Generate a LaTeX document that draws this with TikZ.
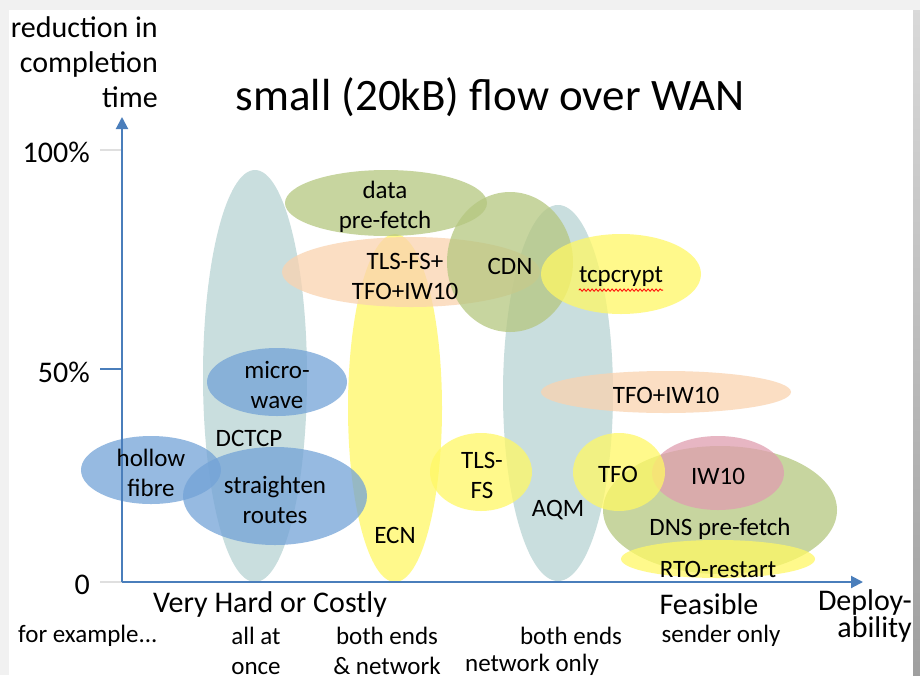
\documentclass[tikz,border=0pt]{standalone}
\usepackage{fontspec}
\setmainfont{Carlito}
\usetikzlibrary{arrows.meta,decorations.pathmorphing}

\definecolor{bggray}{RGB}{241,241,241}
\definecolor{axisblue}{RGB}{74,126,187}
\definecolor{tealgray}{RGB}{183,211,211}
\definecolor{sunyellow}{RGB}{255,248,101}
\definecolor{olivegreen}{RGB}{181,199,128}
\definecolor{peach}{RGB}{250,211,176}
\definecolor{skyblue}{RGB}{115,163,215}
\definecolor{rosepink}{RGB}{224,158,176}

\tikzset{
	blob/.style={fill opacity=0.75},
	tealblob/.style={blob, fill=tealgray},
	yellowblob/.style={blob, fill=sunyellow},
	greenblob/.style={blob, fill=olivegreen},
	peachblob/.style={blob, fill=peach},
	blueblob/.style={blob, fill=skyblue},
	pinkblob/.style={blob, fill=rosepink},
	lbl/.style={inner sep=0pt, align=center, font=\fontsize{25}{30}\selectfont},
	axlbl/.style={inner sep=0pt, align=center, font=\fontsize{30}{35}\selectfont},
}

\begin{document}
\begin{tikzpicture}[x=1pt, y=-1pt]
		%%%%% START %%%%%
		\useasboundingbox (0,0) rectangle (920,675);
		\fill[bggray] (0,0) rectangle (920,675);
		\fill[white] (9,10) rectangle (913,675);
		\shade[top color=gray!30, bottom color=gray!75] (913,10) rectangle (920,675);
		
		% tall ones
		\fill[tealblob] (255,376) ellipse [x radius=52, y radius=206];
		\fill[tealblob] (558,393) ellipse [x radius=55, y radius=188];
		\fill[yellowblob] (395,408) ellipse [x radius=47, y radius=174];
		
		% top group
		\fill[greenblob] (386,203) ellipse [x radius=101, y radius=33];
		\fill[peachblob] (411,272) ellipse [x radius=129, y radius=35];
		\fill[greenblob] (510,262) ellipse [x radius=63, y radius=70];
		\fill[yellowblob] (621,274) ellipse [x radius=80, y radius=40];
		
		% left group
		\fill[blueblob] (277,382) ellipse [x radius=70, y radius=34];
		\fill[blueblob] (151,470) ellipse [x radius=70, y radius=34];
		\fill[blueblob] (275,496) ellipse [x radius=92, y radius=49];
		
		% right group
		\fill[peachblob] (666,392) ellipse [x radius=125, y radius=21];
		\fill[yellowblob] (481,472) ellipse [x radius=51, y radius=39];
		\fill[greenblob] (720,510) ellipse [x radius=117, y radius=64];
		\fill[pinkblob] (718,473) ellipse [x radius=66, y radius=37];
		\fill[yellowblob] (619,472) ellipse [x radius=46, y radius=39];
		\fill[yellowblob] (718,559) ellipse [x radius=97, y radius=19];
		
		% axes
		\coordinate (origin) at (122,582);
		\coordinate (ytip) at (122,117);
		\coordinate (xtip) at (863,582);
		\coordinate (t100) at (100,150);
		\coordinate (t50) at (100,369);
		\coordinate (t0) at (100,582);
		\draw[gray!25, line width=2] (t100) -- (t100 -| origin);
		\draw[axisblue, line width=2] (t50) -- (t50 -| origin);
		\draw[gray!25, line width=2] (t0) -- (origin);
		\draw[axisblue, line width=2, -{Triangle[width=12,length=12]}] (origin) -- (ytip);
		\draw[axisblue, line width=2, -{Triangle[width=12,length=12]}] (origin) -- (xtip);
		
		\node[axlbl, anchor=east] (p100) at (90,152) {100\%};
		\node[axlbl, anchor=east] (p50) at (90,372) {50\%};
		\node[axlbl, anchor=east] (p0) at (90,585) {0};
		\node[axlbl, align=right, anchor=north east] (ylabel) at (158,16) {reduction in\\completion\\time};
		\node[inner sep=0pt, font=\fontsize{45}{54}\selectfont] (title) at (490,97) {small (20kB) flow over WAN};
		
		% labels in blobs
		\node[lbl] (dctcp) at (249,438) {DCTCP};
		\node[lbl] (ecn) at (395,535) {ECN};
		\node[lbl] (aqm) at (558,510) {AQM};
		\node[lbl] (prefetch) at (385,207) {data\\pre-fetch};
		\node[lbl] (tlsplus) at (405,276) {TLS-FS+\\TFO+IW10};
		\node[lbl] (cdn) at (510,266) {CDN};
		\node[lbl] (crypt) at (621,277) {tcpcrypt};
		\draw[red, line width=0.8, decorate, decoration={snake, amplitude=1.2, segment length=4}] ([yshift=-3]crypt.south west) -- ([yshift=-3]crypt.south east);
		\node[lbl] (micro) at (277,385) {micro-\\wave};
		\node[lbl] (hollow) at (151,473) {hollow\\fibre};
		\node[lbl] (straight) at (275,500) {straighten\\routes};
		\node[lbl] (tfoiw) at (666,395) {TFO+IW10};
		\node[lbl] (tlsfs) at (482,475) {TLS-\\FS};
		\node[lbl] (tfo) at (618,474) {TFO};
		\node[lbl] (iw) at (718,476) {IW10};
		\node[lbl] (dns) at (720,529) {DNS pre-fetch};
		\node[lbl] (rto) at (718,569) {RTO-restart};
		
		% bottom labels
		\node[axlbl] (hard) at (270,604) {Very Hard or Costly};
		\node[axlbl] (feasible) at (709,604) {Feasible};
		\node[axlbl, align=right, anchor=east, font=\fontsize{30}{23}\selectfont] (deploy) at (912,616) {Deploy-\\ability};
		\node[lbl, anchor=west] (example) at (18,636) {for example...};
		\node[lbl] (allonce) at (256,651) {all at\\once};
		\node[lbl] (bothnet) at (387,651) {both ends\\\& network};
		\node[lbl] (both) at (571,636) {both ends};
		\node[lbl] (netonly) at (532,665) {network only};
		\node[lbl] (sender) at (721,636) {sender only};
		%%%%% END %%%%%
\end{tikzpicture}
\end{document}
